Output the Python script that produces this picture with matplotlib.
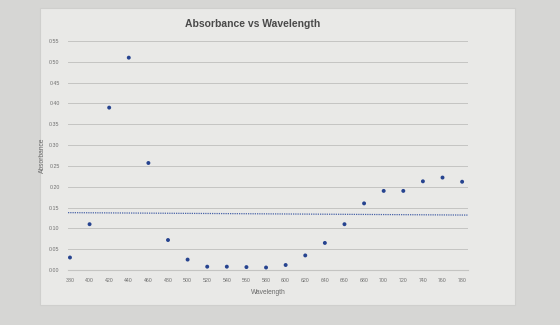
#!/usr/bin/env python3
import numpy as np
import matplotlib
matplotlib.use('Agg')
import matplotlib.pyplot as plt
from matplotlib.patches import Rectangle

# wavelength (nm) and absorbance
wavelength = [380, 400, 420, 440, 460, 480, 500, 520, 540, 560, 580,
              600, 620, 640, 660, 680, 700, 720, 740, 760, 780]
absorbance = [0.030, 0.110, 0.390, 0.510, 0.257, 0.072, 0.025, 0.008, 0.008,
              0.007, 0.006, 0.012, 0.035, 0.065, 0.110, 0.160, 0.190, 0.190,
              0.213, 0.222, 0.212]
x_ticks = list(range(380, 781, 20))
y_ticks = [i * 0.05 for i in range(12)]

title = 'Absorbance vs Wavelength'
x_label = 'Wavelength'
y_label = 'Absorbance'

plt.rcParams['font.family'] = ['Liberation Sans', 'DejaVu Sans']

fig = plt.figure(figsize=(5.6, 3.25), dpi=100, facecolor='#d6d6d4')
# lighter chart area on the screen
fig.patches.append(Rectangle((40 / 560, 1 - 305 / 325), 475 / 560, 297 / 325,
                             transform=fig.transFigure, facecolor='#e9e9e7',
                             edgecolor='#cfcfcd', lw=0.8, zorder=-10))

ax = fig.add_axes([68 / 560, 1 - 270 / 325, 400 / 560, 229 / 325])
ax.set_zorder(1)
ax.set_facecolor('none')

ax.scatter(wavelength, absorbance, s=8, color='#26438f', zorder=3,
           edgecolors='none')

# linear trendline (dotted)
coef = np.polyfit(wavelength, absorbance, 1)
xs = np.array([378, 786])
ax.plot(xs, np.polyval(coef, xs), linestyle=(0, (1, 0.8)), color='#4a64a8',
        lw=0.9, zorder=2)

ax.set_xlim(378, 786)
ax.set_ylim(0, 0.55)
ax.set_xticks(x_ticks)
ax.set_yticks(y_ticks)
ax.set_yticklabels(['{:.2f}'.format(v) for v in y_ticks])
ax.grid(axis='y', color='#c4c4c2', lw=0.7)
ax.set_axisbelow(True)
for side in ('top', 'right', 'left'):
  ax.spines[side].set_visible(False)
ax.spines['bottom'].set_color('#c4c4c2')
ax.tick_params(axis='both', length=0, labelsize=3.8, colors='#6f6f6f', pad=6)

ax.set_xlabel(x_label, fontsize=4.8, color='#6a6a6a', labelpad=4)
ax.set_ylabel(y_label, fontsize=4.8, color='#6a6a6a', labelpad=2)
fig.text(253 / 560, 1 - 24 / 325, title, ha='center', va='center',
         fontsize=7.5, fontweight='bold', color='#4a4a4a')

fig.savefig('out.png', dpi=100, facecolor=fig.get_facecolor())
